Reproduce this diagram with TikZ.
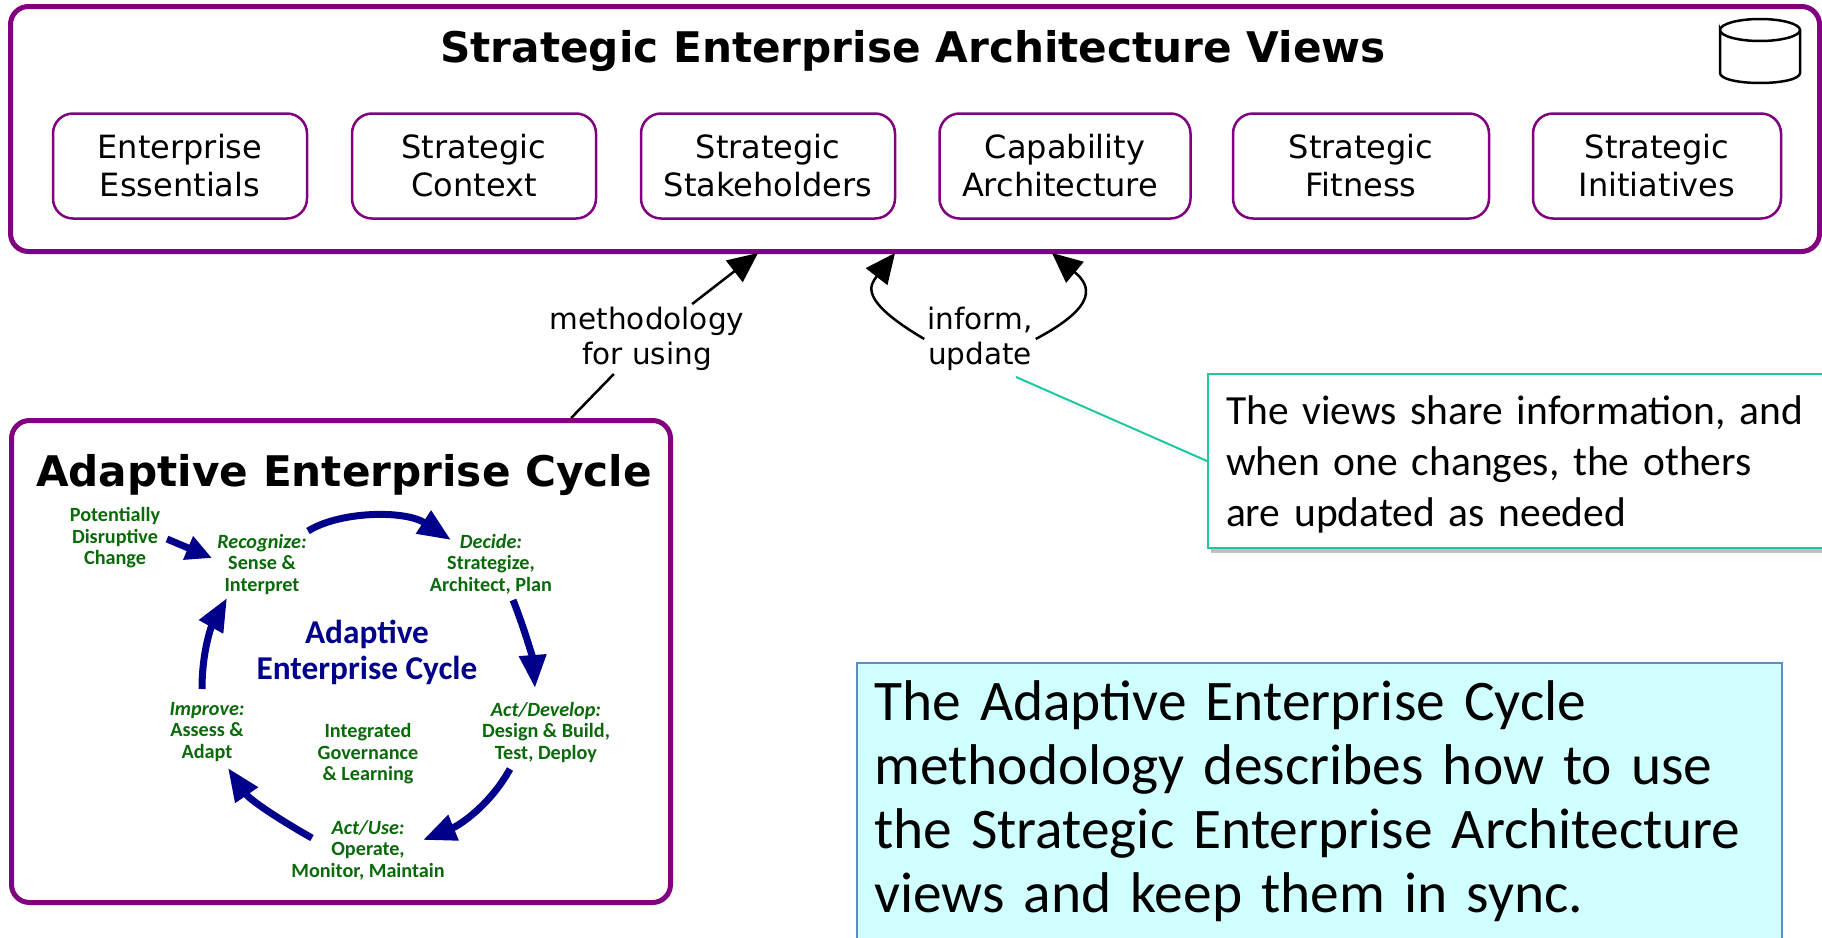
\documentclass[tikz,border=0pt]{standalone}
\usepackage{fontspec}
\setmainfont{DejaVu Sans}
\newfontfamily\calfont{Carlito}
\usetikzlibrary{arrows.meta,shadows}
\definecolor{framepurple}{HTML}{800080}
\definecolor{cyclenavy}{HTML}{00008B}
\definecolor{cyclegreen}{HTML}{0A6A0A}
\definecolor{notegreen}{HTML}{1CC8A0}
\definecolor{noteblue}{HTML}{5B8CC4}
\definecolor{notecyan}{HTML}{CFFFFF}
\tikzset{
  bigframe/.style={draw=framepurple,line width=5pt,rounded corners=18pt,fill=white},
  viewbox/.style={draw=framepurple,line width=2.5pt,rounded corners=20pt,minimum height=105pt,align=center,font=\fontsize{32}{38}\selectfont},
  bigtitle/.style={font=\bfseries\fontsize{42.2}{50}\selectfont},
  linklabel/.style={align=center,inner sep=3pt,font=\fontsize{29.5}{35}\selectfont},
  linkarrow/.style={line width=2.5pt,-{Triangle[length=30pt,width=27pt]}},
  cycletext/.style={align=center,inner sep=0pt,text=cyclegreen,font=\calfont\bfseries\fontsize{20.2}{21.5}\selectfont},
  cyclearrow/.style={draw=cyclenavy,line width=7pt,-{Triangle[length=33pt,width=26pt]}},
  softshadow/.style={drop shadow={shadow xshift=3pt,shadow yshift=-5pt,opacity=.5}}
}
\begin{document}
\begin{tikzpicture}[x=1pt,y=-1pt]
\useasboundingbox (0,0) rectangle (1822,937);
\clip (0,0) rectangle (1822,937);
\node[bigframe,anchor=north west,minimum width=1809,minimum height=245] (views) at (8,4) {};
\node[bigtitle] (viewstitle) at (913,51) {Strategic Enterprise Architecture Views};
\draw[line width=2.5pt]
  (1720,30) .. controls (1720,24) and (1738,19) .. (1760,19)
  .. controls (1782,19) and (1800,24) .. (1800,30)
  .. controls (1800,36) and (1782,41) .. (1760,41)
  .. controls (1738,41) and (1720,36) .. (1720,30)
  -- (1720,73) .. controls (1720,79) and (1738,83) .. (1760,83)
  .. controls (1782,83) and (1800,79) .. (1800,73) -- (1800,30);
\node[viewbox,minimum width=254] (essentials) at (180,166) {Enterprise\\Essentials};
\node[viewbox,minimum width=244] (context) at (474,166) {Strategic\\Context};
\node[viewbox,minimum width=254] (stakeholders) at (768,166) {Strategic\\Stakeholders};
\node[viewbox,minimum width=251] (capability) at (1065,166) {Capability\\Architecture\hspace*{10pt}};
\node[viewbox,minimum width=256] (fitness) at (1361,166) {Strategic\\Fitness};
\node[viewbox,minimum width=248] (initiatives) at (1657,166) {Strategic\\Initiatives};
\node[bigframe,anchor=north west,minimum width=659,minimum height=482] (cycle) at (9,418) {};
\node[bigtitle] (cycletitle) at (344,475) {Adaptive Enterprise Cycle};
\node[linklabel] (usinglabel) at (647,339) {methodology\\for using};
\node[linklabel] (informlabel) at (980,339) {inform,\\update};
\coordinate (usingtip) at (758,253);
\coordinate (informleft) at (895,253);
\coordinate (informright) at (1052,253);
\coordinate (noteend) at (1016,377);
\draw[line width=2.5pt] (cycle)--(usinglabel);
\draw[linkarrow] (usinglabel)--(usingtip);
\draw[linkarrow] (informlabel.west) .. controls (858,300) and (870,285) .. (informleft);
\draw[linkarrow] (informlabel.east) .. controls (1100,305) and (1090,285) .. (informright);
\node[draw=notegreen,line width=2pt,fill=white,softshadow,anchor=north west,minimum width=620,minimum height=174,text width=590,align=left,inner sep=0pt,font=\calfont\fontsize{41.5}{51}\selectfont] (sharenote) at (1207,373) {\rule{0pt}{36pt}\hspace*{3pt}The views share information, and\\\hspace*{3pt}when one changes, the others\\\hspace*{3pt}are updated as needed};
\draw[draw=notegreen,line width=2pt,softshadow] (noteend)--(sharenote.west);
\node[draw=noteblue,line width=1.5pt,fill=notecyan,anchor=north west,minimum width=925,minimum height=277,text width=890,align=left,inner sep=0pt,font=\calfont\fontsize{57.4}{64}\selectfont] (summary) at (856,662) {The Adaptive Enterprise Cycle\\methodology describes how to use\\the Strategic Enterprise Architecture\\views and keep them in sync.};
\node[cycletext] (disruptive) at (115,538) {Potentially\\Disruptive\\Change};
\node[cycletext] (recognize) at (262,564) {\textit{Recognize:}\\Sense \&\\Interpret};
\node[cycletext] (decide) at (491,564) {\textit{Decide:}\\Strategize,\\Architect, Plan};
\node[cycletext] (develop) at (546,732) {\textit{Act/Develop:}\\Design \& Build,\\Test, Deploy};
\node[cycletext] (use) at (368,850) {\textit{Act/Use:}\\Operate,\\Monitor, Maintain};
\node[cycletext] (improve) at (207,732) {\textit{Improve:}\\Assess \&\\Adapt};
\node[cycletext] (governance) at (368,754) {Integrated\\Governance\\\& Learning};
\node[align=center,inner sep=0pt,text=cyclenavy,font=\calfont\bfseries\fontsize{33.3}{36}\selectfont] (cyclename) at (367,652) {Adaptive\\Enterprise Cycle};
\draw[cyclearrow,-{Triangle[length=26pt,width=24pt]}] ([shift={(52,1)}]disruptive.center)--([shift={(-50,-6)}]recognize.center);
\draw[cyclearrow] ([shift={(46,-33)}]recognize.center) .. controls (340,511) and (405,510) .. ([shift={(-40,-24)}]decide.center);
\draw[cyclearrow] ([shift={(22,36)}]decide.center) .. controls (525,630) and (533,660) .. ([shift={(-11,-44)}]develop.center);
\draw[cyclearrow] ([shift={(-36,37)}]develop.center) .. controls (490,805) and (460,825) .. ([shift={(55,-10)}]use.center);
\draw[cyclearrow] ([shift={(-56,-12)}]use.center) .. controls (280,820) and (250,800) .. ([shift={(21,36)}]improve.center);
\draw[cyclearrow] ([shift={(-5,-43)}]improve.center) .. controls (202,650) and (212,625) .. ([shift={(-35,34)}]recognize.center);
\end{tikzpicture}
\end{document}
